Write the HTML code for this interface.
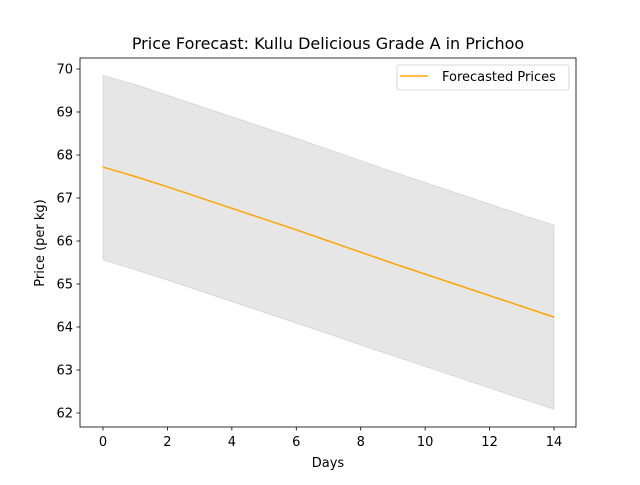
<!DOCTYPE html>
<html><head><meta charset="utf-8"><style>
body{margin:0;background:#fff;}
svg text{font-family:"DejaVu Sans","Liberation Sans",sans-serif;fill:#000;}
</style></head><body>
<svg id="c" width="640" height="480"></svg>
<script>
const days=[0,1,2,3,4,5,6,7,8,9,10,11,12,13,14];
const forecast=[67.72,67.50,67.26,67.01,66.76,66.51,66.26,66.00,65.74,65.48,65.23,64.98,64.73,64.48,64.23];
const upper=[69.85,69.64,69.39,69.14,68.89,68.64,68.39,68.13,67.87,67.61,67.36,67.11,66.86,66.61,66.37];
const lower=[65.56,65.33,65.09,64.84,64.59,64.34,64.09,63.84,63.58,63.33,63.08,62.83,62.58,62.33,62.09];
const xTicks=[0,2,4,6,8,10,12,14];
const yTicks=[62,63,64,65,66,67,68,69,70];
const NS="http://www.w3.org/2000/svg";
const svg=document.getElementById('c');
const L=80,R=576,T=58,B=427;
const xs=d=>103+(554-103)*d/14;
const ys=v=>413-(v-62)*(413-69)/8;
function el(t,a,p){const e=document.createElementNS(NS,t);for(const k in a)e.setAttribute(k,a[k]);(p||svg).appendChild(e);return e;}
let pts=days.map((d,i)=>xs(d)+','+ys(upper[i]));
pts=pts.concat(days.slice().reverse().map((d,j)=>xs(d)+','+ys(lower[days.length-1-j])));
const band=el('polygon',{points:pts.join(' '),fill:'#808080','fill-opacity':0.2,stroke:'#808080','stroke-opacity':0.2});


const line=el('polyline',{points:days.map((d,i)=>xs(d)+','+ys(forecast[i])).join(' '),fill:'none',stroke:'#ffa500','stroke-width':1.5});


const frame=el('rect',{x:L,y:T,width:R-L,height:B-T,fill:'none',stroke:'#000','stroke-width':0.8});


xTicks.forEach(t=>{
 el('line',{x1:xs(t),x2:xs(t),y1:B,y2:B+3.5,stroke:'#000','stroke-width':0.8});
 const tx=el('text',{x:xs(t),y:B+19,'text-anchor':'middle','font-size':13});tx.textContent=t;
 
 
});
yTicks.forEach(t=>{
 el('line',{x1:L-3.5,x2:L,y1:ys(t),y2:ys(t),stroke:'#000','stroke-width':0.8});
 const tx=el('text',{x:L-7,y:ys(t)+4.5,'text-anchor':'end','font-size':13});tx.textContent=t;
 
 
});
</script>
<script>
(function(){
const svg=document.getElementById('c');const NS="http://www.w3.org/2000/svg";
function el(t,a,p){const e=document.createElementNS(NS,t);for(const k in a)e.setAttribute(k,a[k]);(p||svg).appendChild(e);return e;}
const title=el('text',{x:328,y:49,'text-anchor':'middle','font-size':16});title.textContent='Price Forecast: Kullu Delicious Grade A in Prichoo';


const xl=el('text',{x:328,y:467,'text-anchor':'middle','font-size':13});xl.textContent='Days';


const yl=el('text',{x:0,y:0,'text-anchor':'middle','font-size':13,transform:'translate(44,243) rotate(-90)'});yl.textContent='Price (per kg)';


const lg=el('g',{});


el('rect',{x:397,y:65,width:172,height:25,rx:2,fill:'#fff',stroke:'#ccc','stroke-width':0.8},lg);
el('line',{x1:400,x2:428,y1:76,y2:76,stroke:'#ffa500','stroke-width':1.5},lg);
const lt=el('text',{x:442,y:81,'font-size':13},lg);lt.textContent='Forecasted Prices';


})();
</script>
</body></html>
